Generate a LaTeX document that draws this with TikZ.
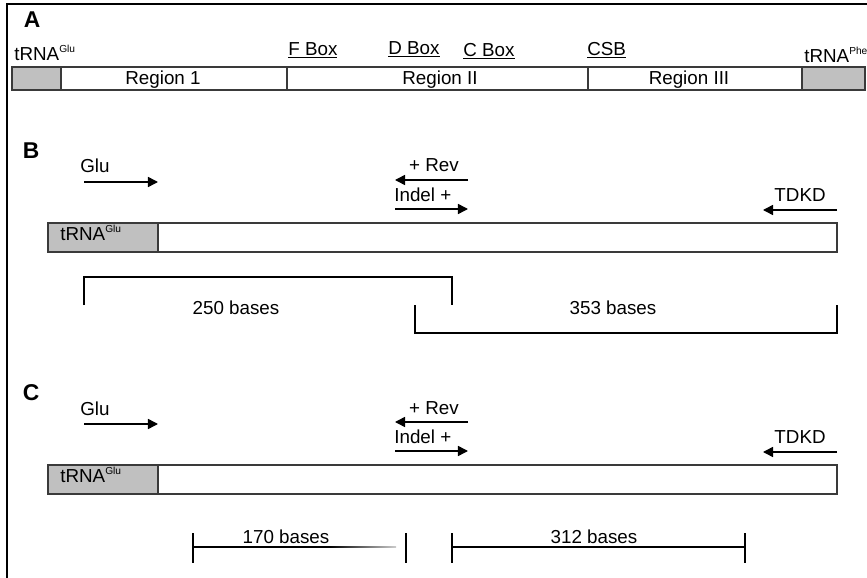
\documentclass[tikz,border=0pt]{standalone}
\usepackage{fontspec}
\setmainfont{Liberation Sans}
\usetikzlibrary{arrows.meta}
\definecolor{boxgray}{HTML}{C0C0C0}
\definecolor{linegray}{HTML}{3A3A3A}
\newcommand{\trna}[1]{tRNA\raisebox{0.8ex}{\fontsize{5.8}{6}\selectfont #1}}
\tikzset{
  frame/.style={draw=black,line width=1.1pt},
  seg/.style={draw=linegray,line width=0.9pt},
  trnabox/.style={seg,fill=boxgray},
  primer/.style={draw=black,line width=0.85pt,-{Triangle[length=5.7pt,width=5.7pt]}},
  span/.style={draw=black,line width=0.7pt},
  lbl/.style={inner sep=0pt,font=\fontsize{10.7}{12}\selectfont},
  site/.style={lbl,anchor=base west},
  panel/.style={inner sep=0pt,font=\fontsize{13}{15}\selectfont\bfseries}
}

\begin{document}
\begin{tikzpicture}[x=0.02cm,y=-0.02cm]
  \useasboundingbox (0,0) rectangle (867,578);
  \draw[frame] (7,578) -- (7,4) -- (867,4);

  % A: control region map
  \node[panel] (labA) at (32,20) {A};
  \draw[trnabox] (12,67) rectangle (61,90);
  \draw[seg] (61,67) rectangle (287,90);
  \draw[seg] (287,67) rectangle (588,90);
  \draw[seg] (588,67) rectangle (802,90);
  \draw[trnabox] (802,67) rectangle (865,90);
  \node[site] (glu) at (14,60) {\trna{Glu}};
  \node[site] (phe) at (804,62) {\trna{Phe}};
  \foreach \x/\y/\t/\n in {288/55/F Box/fbox, 388/54/D Box/dbox,
      463/56/C Box/cbox, 587/55/CSB/csb}
    \node[site] (\n) at (\x,\y) {\underline{\t}};
  \foreach \x/\t/\n in {163/Region 1/reg1, 440/Region II/reg2, 689/Region III/reg3}
    \node[lbl,anchor=base] (\n) at (\x,84) {\t};

  % B and C: primers over the amplified stretch
  \foreach \p/\dy in {B/0,C/242}{
    \begin{scope}[shift={(0,\dy)}]
      \node[panel] (lab\p) at (31,151) {\p};
      \node[site] (glu\p) at (80,173) {Glu};
      \node[lbl,anchor=base] (rev\p) at (434,172) {+ Rev};
      \node[site] (indel\p) at (394,201) {Indel +};
      \node[lbl,anchor=base east] (tdkd\p) at (826,201) {TDKD};
      \coordinate (gluS\p) at (84,182);
      \coordinate (gluE\p) at (158,182);
      \coordinate (revS\p) at (468,180);
      \coordinate (revE\p) at (395,180);
      \coordinate (indS\p) at (395,209);
      \coordinate (indE\p) at (468,209);
      \coordinate (tdS\p) at (837,210);
      \coordinate (tdE\p) at (763,210);
      \draw[primer] (gluS\p) -- (gluE\p);
      \draw[primer] (revS\p) -- (revE\p);
      \draw[primer] (indS\p) -- (indE\p);
      \draw[primer] (tdS\p) -- (tdE\p);
      \draw[seg] (48,223) rectangle (837,252);
      \draw[trnabox] (48,223) rectangle (158,252);
      \node[site] (trna\p) at (60,240) {\trna{Glu}};
    \end{scope}
  }

  % B: product lengths
  \coordinate (b1) at (84,305);
  \coordinate (b2) at (84,277);
  \coordinate (b3) at (452,277);
  \coordinate (b4) at (452,305);
  \coordinate (b5) at (415,305);
  \coordinate (b6) at (415,333);
  \coordinate (b7) at (837,333);
  \coordinate (b8) at (837,305);
  \draw[span] (b1) -- (b2) -- (b3) -- (b4);
  \draw[span] (b5) -- (b6) -- (b7) -- (b8);
  \node[lbl,anchor=base] (len250) at (236,314) {250 bases};
  \node[lbl,anchor=base] (len353) at (613,314) {353 bases};

  % C: product lengths
  \coordinate (c1) at (193,547);
  \coordinate (c2) at (330,547);
  \coordinate (c3) at (406,547);
  \coordinate (c4) at (452,547);
  \coordinate (c5) at (745,547);
  \draw[span] (c1) -- (c2);
  \shade[left color=black,right color=black!20] (330,546.4) rectangle (396,547.6);
  \foreach \c in {c1,c3,c4,c5}
    \draw[span] ([yshift=0.28cm]\c) -- ([yshift=-0.32cm]\c);
  \draw[span] (c4) -- (c5);
  \node[lbl,anchor=base] (len170) at (286,543) {170 bases};
  \node[lbl,anchor=base] (len312) at (594,543) {312 bases};
\end{tikzpicture}
\end{document}
